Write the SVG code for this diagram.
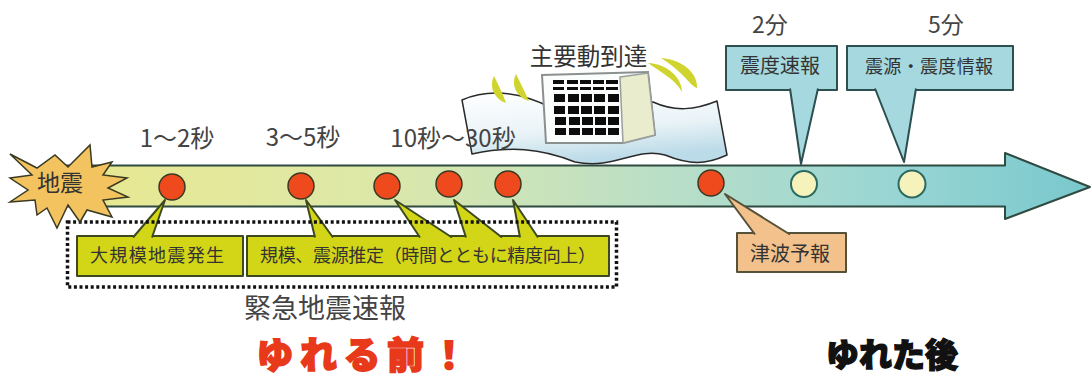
<svg xmlns="http://www.w3.org/2000/svg" width="1091" height="380" viewBox="0 0 1091 380">
  <style>
    text { font-family: "Noto Sans CJK JP", "Noto Sans", sans-serif; fill: #333; text-anchor: middle; }
    .ln { stroke: #2f4a40; stroke-width: 2; stroke-linejoin: round; }
    .quake { fill: #ee4a1e; stroke: #3a3a22; stroke-width: 1.5; }
    .calm { fill: #f6f2bb; stroke: #2b6a62; stroke-width: 2; }
    .yel { fill: #d3d616; stroke: #3d4a20; stroke-width: 2; stroke-linejoin: round; }
    .blu { fill: #a5d8df; stroke: #2c4f50; stroke-width: 2; stroke-linejoin: round; }
    .org { fill: #f3c28c; stroke: #55513a; stroke-width: 2; stroke-linejoin: round; }
    .crescent { fill: #cfd52e; }
    .time { font-size: 24px; fill: #444; }
    .minute { font-size: 23px; fill: #444; }
    .box { font-size: 18px; fill: #333; }
    .box-lg { font-size: 20px; fill: #333; }
    .shout { font-size: 37px; font-weight: 900; stroke-width: 1.6; fill: #e8391a; stroke: #e8391a; }
    .shout-dark { font-size: 33px; font-weight: 900; stroke-width: 1.4; fill: #111; stroke: #111; }
    .win { fill: #0c0c0c; }
  </style>
  <defs>
    <linearGradient id="shaft" x1="0" y1="0" x2="1" y2="0">
      <stop offset="0" stop-color="#e9e88f"/>
      <stop offset="0.3" stop-color="#dde8a8"/>
      <stop offset="0.55" stop-color="#bfe0c4"/>
      <stop offset="0.8" stop-color="#9ad6d4"/>
      <stop offset="1" stop-color="#79c8cd"/>
    </linearGradient>
    <linearGradient id="sheet" x1="0" y1="0" x2="0.3" y2="1">
      <stop offset="0" stop-color="#ffffff"/>
      <stop offset="0.6" stop-color="#e9f3f7"/>
      <stop offset="1" stop-color="#bcdbe8"/>
    </linearGradient>
  </defs>

  <!-- timeline arrow -->
  <g id="timeline">
    <path class="ln" fill="url(#shaft)" d="M60 165.500 H1005 V153 L1090 187 L1005 219 V206.500 H60 Z"/>
  </g>

  <!-- strong motion: shaking ground with a building -->
  <g id="main-motion">
    <path d="M462 100 C490 88 520 92 552 108 L653 102 C675 112 695 110 717 101 L727 155 C705 165 690 165 665 155 C635 147 615 170 575 162 C540 148 510 146 472 154 Z" fill="url(#sheet)" stroke="#2a2a2a" stroke-width="1.500" stroke-linejoin="round"/>
    <path d="M542 75 L648 72 L655 135 L623 143 L546 143 Z" fill="#fbfcfc" stroke="#8a8f90" stroke-width="2"/>
    <path d="M620 77 L648 73 L655 135 L623 143 Z" fill="#e9eccd" stroke="#9a9f9c" stroke-width="1.500"/>
    <g class="win">
      <rect x="553" y="80" width="11" height="4"/><rect x="567" y="80" width="11" height="4"/><rect x="580" y="80" width="11" height="4"/><rect x="593" y="80" width="11" height="4"/><rect x="606" y="80" width="12" height="4"/>
      <rect x="553" y="87" width="11" height="3"/><rect x="567" y="87" width="11" height="3"/><rect x="580" y="87" width="11" height="3"/><rect x="593" y="87" width="11" height="3"/><rect x="606" y="87" width="12" height="3"/>
      <rect x="554" y="94" width="11" height="8"/><rect x="568" y="94" width="11" height="8"/><rect x="581" y="94" width="11" height="8"/><rect x="594" y="94" width="11" height="8"/><rect x="608" y="94" width="11" height="8"/>
      <rect x="554" y="106" width="11" height="8"/><rect x="568" y="106" width="11" height="8"/><rect x="581" y="106" width="11" height="8"/><rect x="594" y="106" width="11" height="8"/><rect x="608" y="106" width="11" height="8"/>
      <rect x="555" y="117" width="11" height="8"/><rect x="569" y="117" width="11" height="8"/><rect x="582" y="117" width="11" height="8"/><rect x="595" y="117" width="11" height="8"/><rect x="608" y="117" width="11" height="8"/>
      <rect x="555" y="128" width="11" height="7"/><rect x="569" y="128" width="11" height="7"/><rect x="582" y="128" width="11" height="7"/><rect x="595" y="128" width="11" height="7"/><rect x="608" y="128" width="11" height="7"/>
    </g>
    <path class="crescent" d="M648 63 C668 64 682 78 682 92 C674 78 660 72 648 63 Z"/>
    <path class="crescent" d="M661 58 C684 60 698 74 697 88 C690 86 686 74 661 58 Z"/>
    <path class="crescent" d="M494 76 C488 88 496 100 506 103 C503 94 499 86 494 76 Z"/>
    <path class="crescent" d="M516 74 C510 86 518 98 529 101 C525 92 521 84 516 74 Z"/>
    <text x="588.500" y="65" font-size="23.500">主要動到達</text>
  </g>

  <!-- elapsed time labels -->
  <g id="times">
    <text class="time" x="177" y="147">1～2秒</text>
    <text class="time" x="303" y="146">3～5秒</text>
    <text class="time" x="453" y="147">10秒～30秒</text>
    <text class="minute" x="770" y="33">2分</text>
    <text class="minute" x="946" y="33">5分</text>
  </g>

  <!-- report boxes -->
  <g id="box-occurrence">
    <rect class="yel" x="77" y="236" width="166" height="40"/>
    <text class="box" x="157" y="262" textLength="134" lengthAdjust="spacing">大規模地震発生</text>
  </g>
  <g id="box-estimate">
    <rect class="yel" x="247" y="236" width="362" height="40"/>
    <text class="box" x="428" y="262" textLength="336" lengthAdjust="spacing">規模、震源推定（時間とともに精度向上）</text>
  </g>
  <g id="box-tsunami">
    <rect class="org" x="737" y="233" width="109" height="39"/>
    <text class="box-lg" x="790" y="261">津波予報</text>
  </g>
  <g id="box-intensity">
    <rect class="blu" x="726" y="46" width="111" height="44"/>
    <text class="box-lg" x="780" y="73">震度速報</text>
  </g>
  <g id="box-hypocenter">
    <rect class="blu" x="847" y="46" width="166" height="44"/>
    <text class="box" x="929" y="73" textLength="128" lengthAdjust="spacing">震源・震度情報</text>
  </g>

  <!-- callout tails from the timeline events to their boxes -->
  <g id="connectors">
    <path class="yel" d="M133 237.500 L165 200 L152 237.500"/>
    <path class="yel" d="M315 237.500 L306 200 L333 237.500"/>
    <path class="yel" d="M420 237.500 L395 200 L452 237.500"/>
    <path class="yel" d="M466 237.500 L454 200 L502 237.500"/>
    <path class="yel" d="M520 237.500 L513 200 L538 237.500"/>
    <path class="org" d="M755 234.500 L725 194 L790 234.500"/>
    <path class="blu" d="M790 88.500 L801 164 L818 88.500"/>
    <path class="blu" d="M875 88.500 L904 162 L916 88.500"/>
  </g>

  <!-- emergency bulletin frame -->
  <g id="bulletin">
    <rect x="67.500" y="222" width="549" height="65" fill="none" stroke="#111" stroke-width="3.500" stroke-dasharray="3 2.600"/>
    <text x="325" y="318" font-size="27" style="fill:#444">緊急地震速報</text>
  </g>

  <!-- earthquake burst -->
  <g id="quake">
    <path d="M10 154 L37 168 L55 155 L68 167 L90 145 L92 167 L112 162 L103 175 L127 178 L108 188 L128 197 L103 200 L112 217 L87 210 L80 222 L68 205 L57 228 L47 208 L37 215 L35 200 L10 202 L28 190 L10 178 L32 175 Z" fill="#f2c35e" stroke="#3a3a22" stroke-width="1.500" stroke-linejoin="miter"/>
    <text x="60" y="191" font-size="23">地震</text>
  </g>

  <!-- event markers -->
  <g id="events">
    <circle class="quake" cx="172" cy="187" r="13"/>
    <circle class="quake" cx="301" cy="186" r="13"/>
    <circle class="quake" cx="387" cy="186" r="13"/>
    <circle class="quake" cx="449" cy="184" r="13"/>
    <circle class="quake" cx="508" cy="184" r="13"/>
    <circle class="quake" cx="711" cy="183" r="13"/>
    <circle class="calm" cx="804" cy="184" r="13"/>
    <circle class="calm" cx="912" cy="184" r="13.500"/>
  </g>

  <!-- before and after headings -->
  <g id="before">
    <text class="shout" x="362" y="369" textLength="211" lengthAdjust="spacing">ゆれる前！</text>
  </g>
  <g id="after">
    <text class="shout-dark" x="892" y="367">ゆれた後</text>
  </g>
</svg>
